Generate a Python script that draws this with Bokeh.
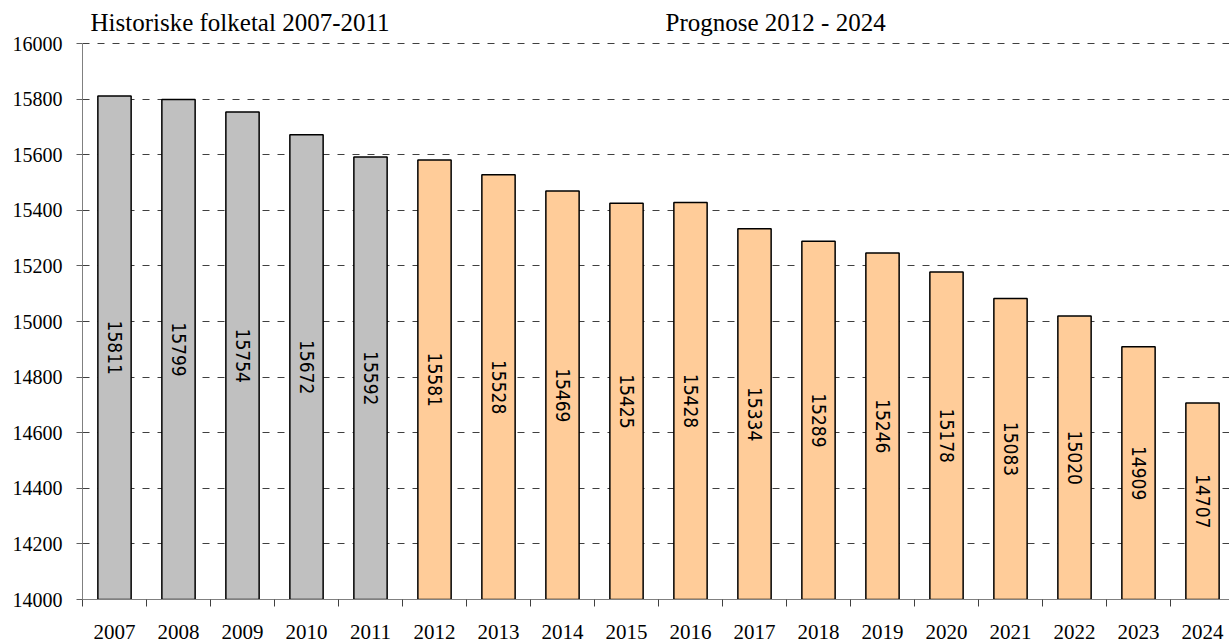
import math
from bokeh.plotting import figure
from bokeh.models import ColumnDataSource, FixedTicker, Range1d
from bokeh.core.properties import value
from bokeh.embed import file_html
from bokeh.resources import INLINE

years = [2007, 2008, 2009, 2010, 2011, 2012, 2013, 2014, 2015,
         2016, 2017, 2018, 2019, 2020, 2021, 2022, 2023, 2024]
population = [15811, 15799, 15754, 15672, 15592, 15581, 15528, 15469, 15425,
              15428, 15334, 15289, 15246, 15178, 15083, 15020, 14909, 14707]
historic_years = [2007, 2008, 2009, 2010, 2011]
section_titles = ["Historiske folketal 2007-2011", "Prognose 2012 - 2024"]
y_ticks = [14000, 14200, 14400, 14600, 14800, 15000, 15200, 15400, 15600, 15800, 16000]

BASE = 14000
Y_TOP = 16000
GRAY = "#C0C0C0"
ORANGE = "#FFCC99"

# layout constants (pixels)
W, H = 1229, 644
LEFT, BOTTOM = 82, 45
FRAME_H = H - BOTTOM
PX_PER_UNIT = 556 / 2000.0
Y_END = BASE + FRAME_H / PX_PER_UNIT
CAT_W = 64
X_END = -0.5 + (W - LEFT) / CAT_W

xs = list(range(len(years)))
colors = [GRAY if y in historic_years else ORANGE for y in years]
mids = [(BASE + v) / 2 for v in population]
labels = [str(v) for v in population]

src = ColumnDataSource(dict(x=xs, top=population, color=colors, mid=mids, label=labels))

p = figure(width=W, height=H, output_backend="svg", toolbar_location=None,
           x_range=Range1d(-0.5, X_END), y_range=Range1d(BASE, Y_END),
           min_border_left=LEFT, min_border_right=0, min_border_top=0, min_border_bottom=BOTTOM)
p.outline_line_color = None
p.background_fill_color = "white"

p.vbar(x="x", top="top", bottom=BASE, width=0.52, fill_color="color",
       line_color="black", line_width=1.5, source=src)

p.text(x="x", y="mid", text="label", angle=-math.pi / 2, text_align="center",
       text_baseline="middle", text_font=value("DejaVu Sans Condensed"),
       text_font_size="19px", text_color="black", source=src)

# section titles above the plot area
title_x = [-0.5 + 8 / CAT_W, -0.5 + 583 / CAT_W]
title_y = [Y_TOP + 21 / PX_PER_UNIT] * 2
p.text(x=title_x, y=title_y, text=section_titles, text_align="left",
       text_baseline="alphabetic", text_font=value("Liberation Serif"),
       text_font_size="25px", text_color="black")

# Y axis
p.yaxis.ticker = FixedTicker(ticks=y_ticks)
p.yaxis.bounds = (BASE, Y_TOP)
p.yaxis.minor_tick_line_color = None
p.yaxis.major_tick_in = 0
p.yaxis.major_tick_out = 6
p.yaxis.major_tick_line_color = "#606060"
p.yaxis.axis_line_color = "#808080"
p.yaxis.major_label_text_font = "Liberation Serif"
p.yaxis.major_label_text_font_size = "20px"
p.yaxis.major_label_text_color = "black"
p.yaxis.major_label_standoff = 14

# X axis
p.xaxis.ticker = FixedTicker(ticks=xs, minor_ticks=[i - 0.5 for i in xs])
p.xaxis.major_label_overrides = {i: str(y) for i, y in zip(xs, years)}
p.xaxis.major_tick_line_color = None
p.xaxis.major_tick_in = 0
p.xaxis.major_tick_out = 0
p.xaxis.minor_tick_in = 0
p.xaxis.minor_tick_out = 7
p.xaxis.minor_tick_line_color = "#404040"
p.xaxis.axis_line_color = "#808080"
p.xaxis.major_label_text_font = "Liberation Serif"
p.xaxis.major_label_text_font_size = "21px"
p.xaxis.major_label_text_color = "black"
p.xaxis.major_label_standoff = 18

# Grid
p.xgrid.grid_line_color = None
p.ygrid.ticker = FixedTicker(ticks=y_ticks)
p.ygrid.grid_line_color = "#404040"
p.ygrid.grid_line_dash = "7 8"
p.ygrid.grid_line_width = 1

open("out.html", "w").write(file_html(p, INLINE))
